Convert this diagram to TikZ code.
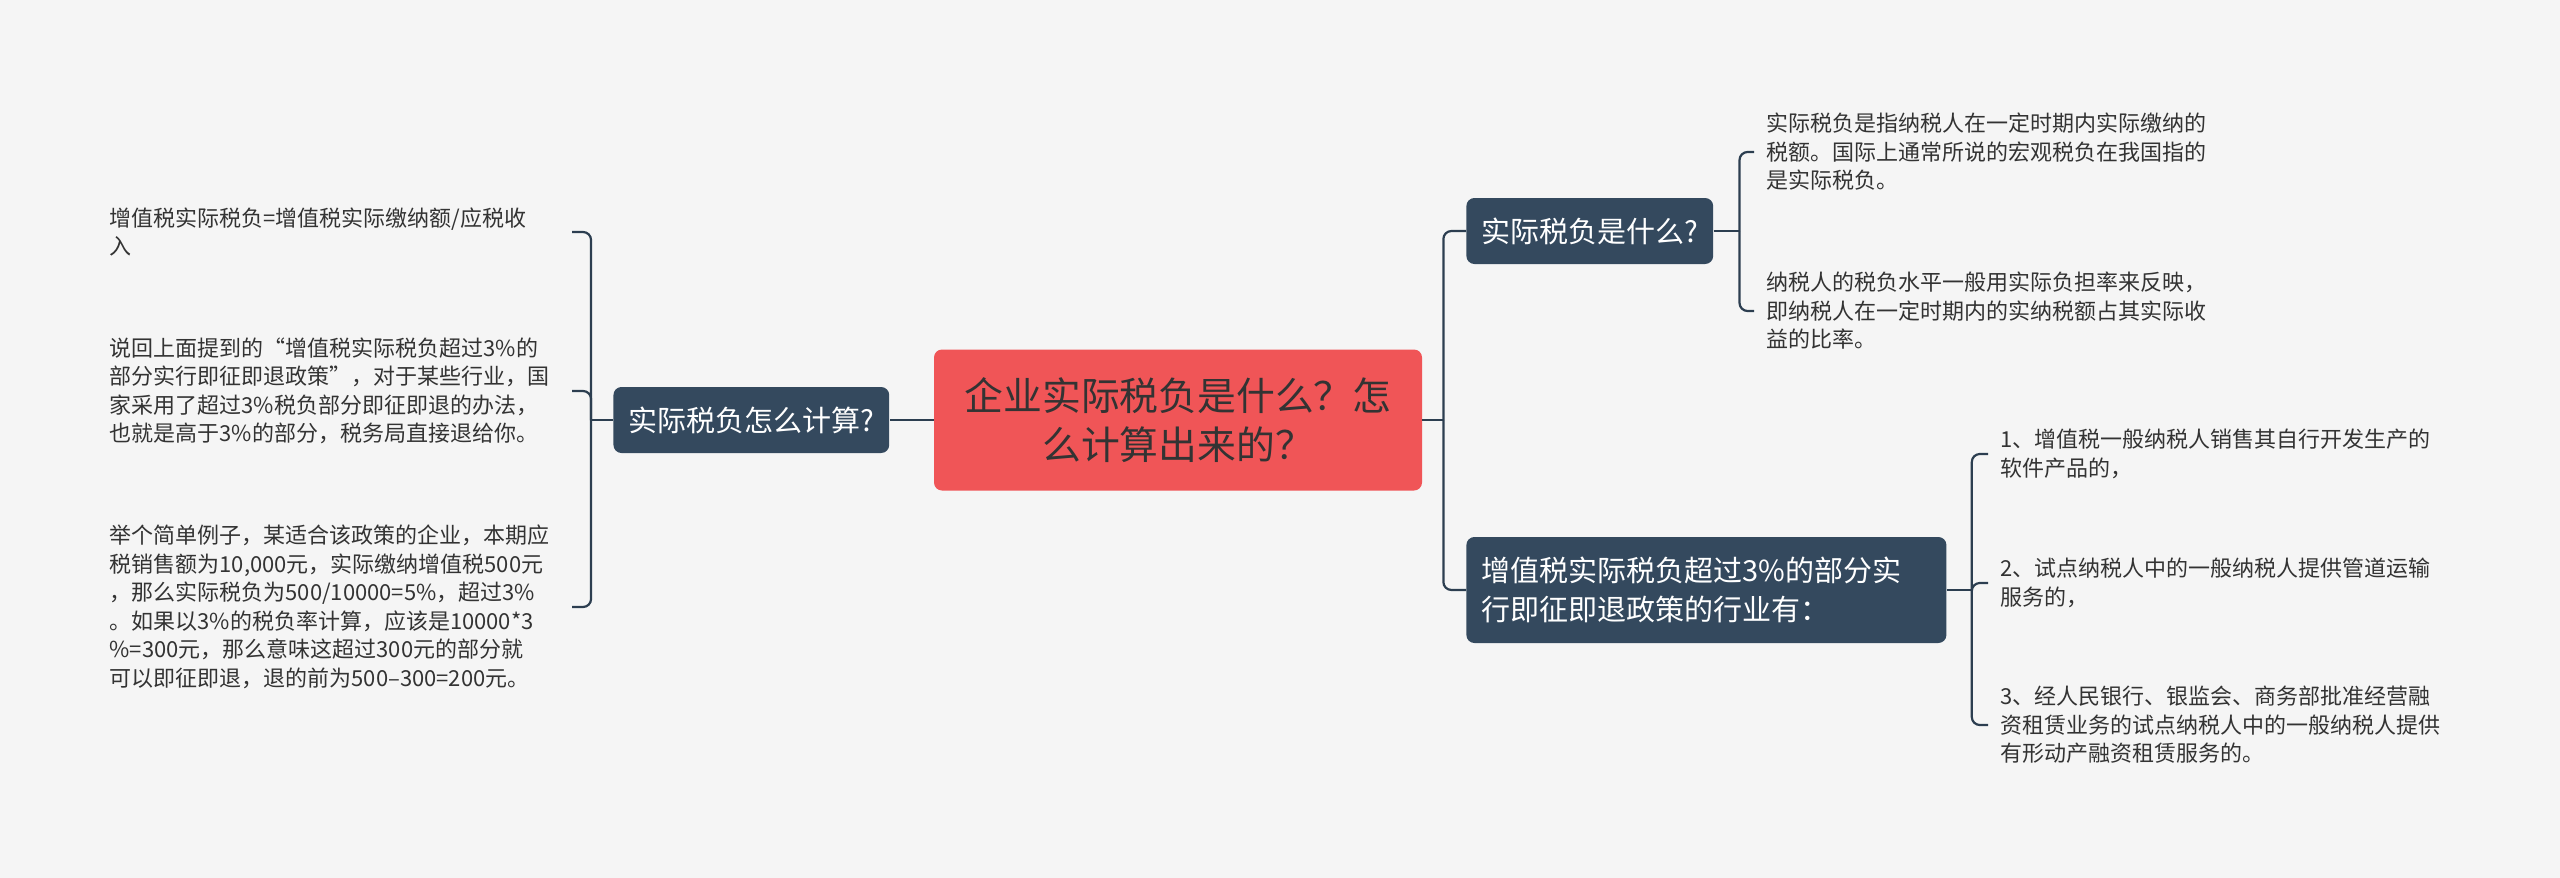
\documentclass[tikz,border=0pt]{standalone}
\usepackage{fontspec}
\setmainfont{Noto Sans CJK SC}
\usepackage{tikz}
\usetikzlibrary{positioning}
\definecolor{mapbg}{HTML}{F5F5F5}
\definecolor{mapnavy}{HTML}{34495E}
\definecolor{mapline}{HTML}{2C3E50}
\definecolor{mapred}{HTML}{F05557}
\definecolor{maptext}{HTML}{333333}

\begin{document}
\begin{tikzpicture}[x=0.5pt,y=-0.5pt,
root/.style={fill=mapred,rounded corners=4pt,align=center,minimum width=244pt,minimum height=70.5pt,text=maptext,font=\fontsize{19.4pt}{24.5pt}\selectfont},
branch/.style={fill=mapnavy,rounded corners=4pt,minimum height=33pt,inner xsep=7.5pt,text=white,font=\fontsize{14.5pt}{19.5pt}\selectfont},
leaf/.style={text width=225pt,align=left,inner xsep=6pt,inner ysep=0pt,text=maptext,font=\fontsize{11pt}{14.25pt}\selectfont},
link/.style={draw=mapline,line width=1.1pt,rounded corners=4pt}]
\fill[mapbg] (0,0) rectangle (2560,878);
\useasboundingbox (0,0) rectangle (2560,878);
% centre and main branches
\node[root] (main) at (1178,420) {企业实际税负是什么？怎\\么计算出来的？};
\node[branch,left=22pt of main] (calc) {实际税负怎么计算?};
\node[branch,anchor=west] (what) at (1466,231) {实际税负是什么?};
\node[branch,anchor=west,text width=225pt,align=left,minimum height=53pt] (refund) at (1466,590) {增值税实际税负超过3\%的部分实\\行即征即退政策的行业有：};
% left leaves
\node[leaf,anchor=east] (l1) at (572,232) {增值税实际税负=增值税实际缴纳额/应税收\\入};
\node[leaf,anchor=east] (l2) at (572,391) {说回上面提到的“增值税实际税负超过3\%的\\部分实行即征即退政策”，对于某些行业，国\\家采用了超过3\%税负部分即征即退的办法，\\也就是高于3\%的部分，税务局直接退给你。};
\node[leaf,anchor=east] (l3) at (572,607) {举个简单例子，某适合该政策的企业，本期应\\税销售额为10,000元，实际缴纳增值税500元\\，那么实际税负为500/10000=5\%，超过3\%\\。如果以3\%的税负率计算，应该是10000*3\\\%=300元，那么意味这超过300元的部分就\\可以即征即退，退的前为500–300=200元。};
% right leaves
\node[leaf,anchor=west] (r1) at (1754,152) {实际税负是指纳税人在一定时期内实际缴纳的\\税额。国际上通常所说的宏观税负在我国指的\\是实际税负。};
\node[leaf,anchor=west] (r2) at (1754,311) {纳税人的税负水平一般用实际负担率来反映，\\即纳税人在一定时期内的实纳税额占其实际收\\益的比率。};
\node[leaf,anchor=west] (s1) at (1988,454) {1、增值税一般纳税人销售其自行开发生产的\\软件产品的，};
\node[leaf,anchor=west] (s2) at (1988,583) {2、试点纳税人中的一般纳税人提供管道运输\\服务的，};
\node[leaf,anchor=west] (s3) at (1988,725) {3、经人民银行、银监会、商务部批准经营融\\资租赁业务的试点纳税人中的一般纳税人提供\\有形动产融资租赁服务的。};
% junctions
\path (main.east) ++(21,0) coordinate (rj);
\path (calc.west) ++(-22,0) coordinate (lj);
\path (what.east) ++(26,0) coordinate (wj);
\path (refund.east) ++(25,0) coordinate (fj);
% connectors
\draw[link] (main.west) -- (calc.east);
\draw[link] (main.east) -- (rj);
\draw[link] (rj) |- (what.west);
\draw[link] (rj) |- (refund.west);
\draw[link] (calc.west) -- (lj);
\foreach \n in {l1,l2,l3} \draw[link] (lj) |- (\n.east);
\draw[link] (what.east) -- (wj);
\foreach \n in {r1,r2} \draw[link] (wj) |- (\n.west);
\draw[link] (refund.east) -- (fj);
\foreach \n in {s1,s2,s3} \draw[link] (fj) |- (\n.west);
\end{tikzpicture}
\end{document}
